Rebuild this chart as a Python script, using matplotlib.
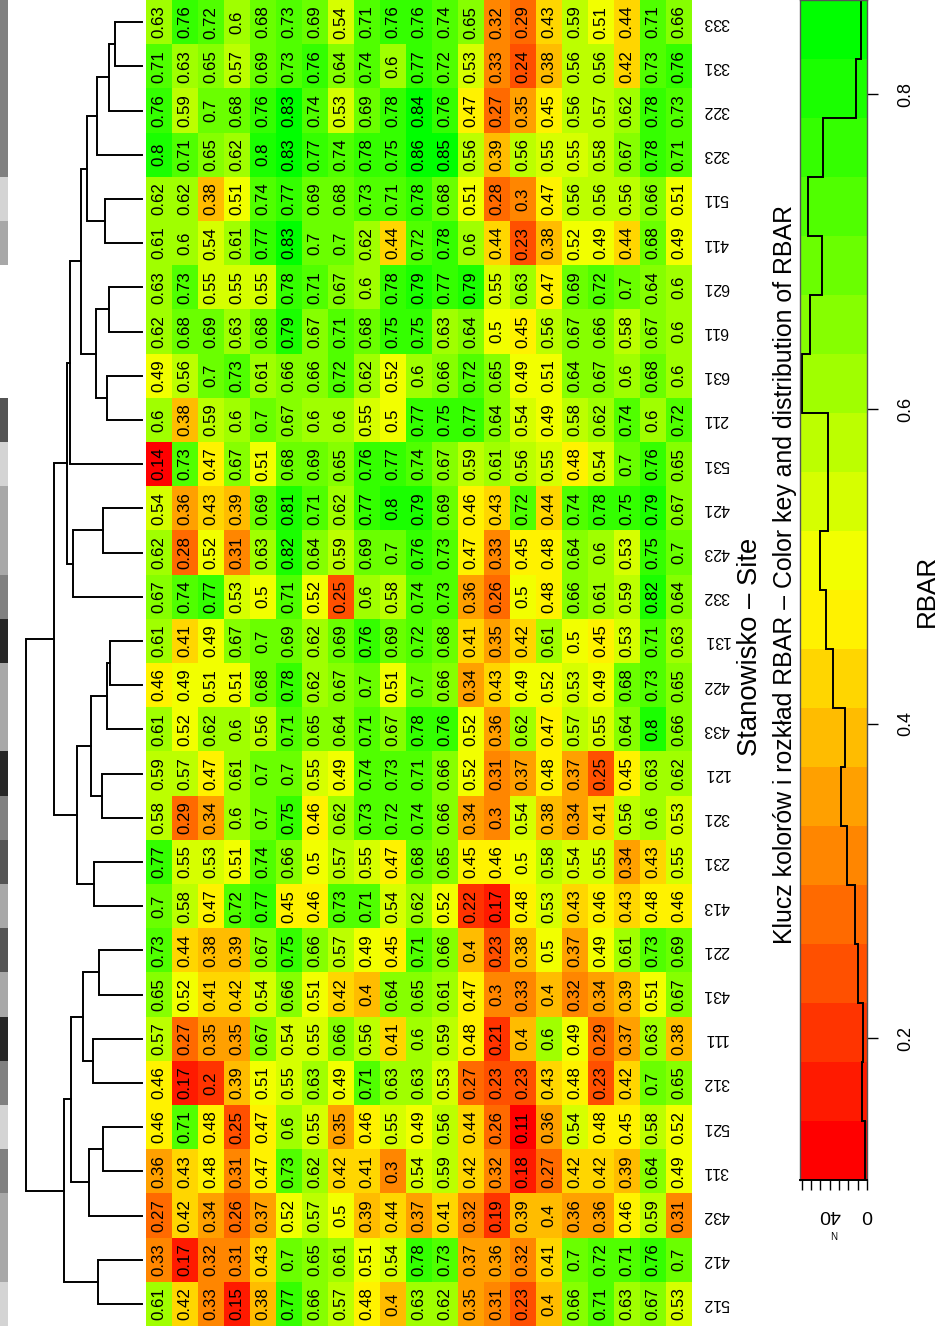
import numpy as np
import matplotlib
matplotlib.use("Agg")
import matplotlib.pyplot as plt
from matplotlib.colors import ListedColormap, BoundaryNorm, LinearSegmentedColormap, to_rgb
from matplotlib.transforms import blended_transform_factory

plt.rcParams['font.family'] = ['Liberation Sans', 'DejaVu Sans']

# Sites in dendrogram order (top to bottom)
sites = ["333", "331", "322", "323", "511", "411", "621", "611", "631", "211",
         "531", "421", "423", "332", "131", "422", "433", "121", "321", "231",
         "413", "221", "431", "111", "312", "521", "311", "432", "412", "512"]

# RBAR values, one row per site
rbar = [
    [0.63, 0.76, 0.72, 0.6, 0.68, 0.73, 0.69, 0.54, 0.71, 0.76, 0.76, 0.74, 0.65, 0.32, 0.29, 0.43, 0.59, 0.51, 0.44, 0.71, 0.66],
    [0.71, 0.63, 0.65, 0.57, 0.69, 0.73, 0.76, 0.64, 0.74, 0.6, 0.77, 0.72, 0.53, 0.33, 0.24, 0.38, 0.56, 0.56, 0.42, 0.73, 0.76],
    [0.76, 0.59, 0.7, 0.68, 0.76, 0.83, 0.74, 0.53, 0.69, 0.78, 0.84, 0.76, 0.47, 0.27, 0.35, 0.45, 0.56, 0.57, 0.62, 0.78, 0.73],
    [0.8, 0.71, 0.65, 0.62, 0.8, 0.83, 0.77, 0.74, 0.78, 0.75, 0.86, 0.85, 0.56, 0.39, 0.56, 0.55, 0.55, 0.58, 0.67, 0.78, 0.71],
    [0.62, 0.62, 0.38, 0.51, 0.74, 0.77, 0.69, 0.68, 0.73, 0.71, 0.78, 0.68, 0.51, 0.28, 0.3, 0.47, 0.56, 0.56, 0.56, 0.66, 0.51],
    [0.61, 0.6, 0.54, 0.61, 0.77, 0.83, 0.7, 0.7, 0.62, 0.44, 0.72, 0.78, 0.6, 0.44, 0.23, 0.38, 0.52, 0.49, 0.44, 0.68, 0.49],
    [0.63, 0.73, 0.55, 0.55, 0.55, 0.78, 0.71, 0.67, 0.6, 0.78, 0.79, 0.77, 0.79, 0.55, 0.63, 0.47, 0.69, 0.72, 0.7, 0.64, 0.6],
    [0.62, 0.68, 0.69, 0.63, 0.68, 0.79, 0.67, 0.71, 0.68, 0.75, 0.75, 0.63, 0.64, 0.5, 0.45, 0.56, 0.67, 0.66, 0.58, 0.67, 0.6],
    [0.49, 0.56, 0.7, 0.73, 0.61, 0.66, 0.66, 0.72, 0.62, 0.52, 0.6, 0.66, 0.72, 0.65, 0.49, 0.51, 0.64, 0.67, 0.6, 0.68, 0.6],
    [0.6, 0.38, 0.59, 0.6, 0.7, 0.67, 0.6, 0.6, 0.55, 0.5, 0.77, 0.75, 0.77, 0.64, 0.54, 0.49, 0.58, 0.62, 0.74, 0.6, 0.72],
    [0.14, 0.73, 0.47, 0.67, 0.51, 0.68, 0.69, 0.65, 0.76, 0.77, 0.74, 0.67, 0.59, 0.61, 0.56, 0.55, 0.48, 0.54, 0.7, 0.76, 0.65],
    [0.54, 0.36, 0.43, 0.39, 0.69, 0.81, 0.71, 0.62, 0.77, 0.8, 0.79, 0.69, 0.46, 0.43, 0.72, 0.44, 0.74, 0.78, 0.75, 0.79, 0.67],
    [0.62, 0.28, 0.52, 0.31, 0.63, 0.82, 0.64, 0.59, 0.69, 0.7, 0.76, 0.73, 0.47, 0.33, 0.45, 0.48, 0.64, 0.6, 0.53, 0.75, 0.7],
    [0.67, 0.74, 0.77, 0.53, 0.5, 0.71, 0.52, 0.25, 0.6, 0.58, 0.74, 0.73, 0.36, 0.26, 0.5, 0.48, 0.66, 0.61, 0.59, 0.82, 0.64],
    [0.61, 0.41, 0.49, 0.67, 0.7, 0.69, 0.62, 0.69, 0.76, 0.69, 0.72, 0.68, 0.41, 0.35, 0.42, 0.61, 0.5, 0.45, 0.53, 0.71, 0.63],
    [0.46, 0.49, 0.51, 0.51, 0.68, 0.78, 0.62, 0.67, 0.7, 0.51, 0.7, 0.66, 0.34, 0.43, 0.49, 0.52, 0.53, 0.49, 0.68, 0.73, 0.65],
    [0.61, 0.52, 0.62, 0.6, 0.56, 0.71, 0.65, 0.64, 0.71, 0.67, 0.78, 0.76, 0.52, 0.36, 0.62, 0.47, 0.57, 0.55, 0.64, 0.8, 0.66],
    [0.59, 0.57, 0.47, 0.61, 0.7, 0.7, 0.55, 0.49, 0.74, 0.73, 0.71, 0.66, 0.52, 0.31, 0.37, 0.48, 0.37, 0.25, 0.45, 0.63, 0.62],
    [0.58, 0.29, 0.34, 0.6, 0.7, 0.75, 0.46, 0.62, 0.73, 0.72, 0.74, 0.66, 0.34, 0.3, 0.54, 0.38, 0.34, 0.41, 0.56, 0.6, 0.53],
    [0.77, 0.55, 0.53, 0.51, 0.74, 0.66, 0.5, 0.57, 0.55, 0.47, 0.68, 0.65, 0.45, 0.46, 0.5, 0.58, 0.54, 0.55, 0.34, 0.43, 0.55],
    [0.7, 0.58, 0.47, 0.72, 0.77, 0.45, 0.46, 0.73, 0.71, 0.54, 0.62, 0.52, 0.22, 0.17, 0.48, 0.53, 0.43, 0.46, 0.43, 0.48, 0.46],
    [0.73, 0.44, 0.38, 0.39, 0.67, 0.75, 0.66, 0.57, 0.49, 0.45, 0.71, 0.66, 0.4, 0.23, 0.38, 0.5, 0.37, 0.49, 0.61, 0.73, 0.69],
    [0.65, 0.52, 0.41, 0.42, 0.54, 0.66, 0.51, 0.42, 0.4, 0.64, 0.65, 0.61, 0.47, 0.3, 0.33, 0.4, 0.32, 0.34, 0.39, 0.51, 0.67],
    [0.57, 0.27, 0.35, 0.35, 0.67, 0.54, 0.55, 0.66, 0.56, 0.41, 0.6, 0.59, 0.48, 0.21, 0.4, 0.6, 0.49, 0.29, 0.37, 0.63, 0.38],
    [0.46, 0.17, 0.2, 0.39, 0.51, 0.55, 0.63, 0.49, 0.71, 0.63, 0.63, 0.53, 0.27, 0.23, 0.23, 0.43, 0.48, 0.23, 0.42, 0.7, 0.65],
    [0.46, 0.71, 0.48, 0.25, 0.47, 0.6, 0.55, 0.35, 0.46, 0.55, 0.49, 0.56, 0.44, 0.26, 0.11, 0.36, 0.54, 0.48, 0.45, 0.58, 0.52],
    [0.36, 0.43, 0.48, 0.31, 0.47, 0.73, 0.62, 0.42, 0.41, 0.3, 0.54, 0.59, 0.42, 0.32, 0.18, 0.27, 0.42, 0.42, 0.39, 0.64, 0.49],
    [0.27, 0.42, 0.34, 0.26, 0.37, 0.52, 0.57, 0.5, 0.39, 0.44, 0.37, 0.41, 0.32, 0.19, 0.39, 0.4, 0.36, 0.36, 0.46, 0.59, 0.31],
    [0.33, 0.17, 0.32, 0.31, 0.43, 0.7, 0.65, 0.61, 0.51, 0.54, 0.78, 0.73, 0.37, 0.36, 0.32, 0.41, 0.7, 0.72, 0.71, 0.76, 0.7],
    [0.61, 0.42, 0.33, 0.15, 0.38, 0.77, 0.66, 0.57, 0.48, 0.4, 0.63, 0.62, 0.35, 0.31, 0.23, 0.4, 0.66, 0.71, 0.63, 0.67, 0.53],
]

# Hierarchical clustering merges: (left, right, height); leaves are site
# names, integers refer to earlier merges by index
merges = [
    ("333", "331", 27), (0, "322", 33), (1, "323", 45), ("511", "411", 37),
    (2, 3, 55), ("621", "611", 33), ("631", "211", 35), (5, 6, 46),
    (4, 7, 61), (8, "531", 72), ("421", "423", 39), (10, "332", 69),
    (9, 11, 75), ("131", "422", 32), (13, "433", 35), ("121", "321", 40),
    (14, 15, 51), ("231", "413", 48), (16, 17, 65), (12, 18, 88),
    ("221", "431", 43), ("111", "312", 49), (20, 21, 59), ("521", "311", 39),
    (23, "432", 53), (22, 24, 71), ("412", "512", 44), (25, 26, 78),
    (19, 27, 116),
]

# Grey shade per site group (first digit of the site code)
group_grey = {"1": "#262626", "2": "#545454", "3": "#808080",
              "4": "#a8a8a8", "5": "#d4d4d4", "6": "#ffffff"}

data = np.array(rbar)
nrow, ncol = data.shape
nbins = 20
breaks = np.linspace(data.min(), data.max(), nbins + 1)
ramp = LinearSegmentedColormap.from_list("ryg", ["#ff0000", "#ffff00", "#00ff00"])
cmap = ListedColormap([ramp(t) for t in np.linspace(0, 1, nbins)])
norm = BoundaryNorm(breaks, nbins)

W, H = 941, 1326
fig = plt.figure(figsize=(W / 100, H / 100), dpi=100)


def px_axes(x0, y0, x1, y1):
    return fig.add_axes([x0 / W, 1 - y1 / H, (x1 - x0) / W, (y1 - y0) / H])


# Heatmap
ax = px_axes(146, 0, 692, H)
ax.pcolormesh(np.arange(ncol + 1), np.arange(nrow + 1), data, cmap=cmap, norm=norm)
ax.set_xlim(0, ncol)
ax.set_ylim(nrow, 0)
ax.axis("off")
for i in range(nrow):
    for j in range(ncol):
        ax.text(j + 0.5, i + 0.5, f"{data[i, j]:g}", rotation=90,
                ha="center", va="center", fontsize=12.2, color="black")

trans = blended_transform_factory(ax.transAxes, ax.transData)
for i, s in enumerate(sites):
    ax.text(1 + 11 / 546, i + 0.5, s, transform=trans, rotation=180,
            ha="left", va="center", fontsize=11.5)

# Group side bar
axs = px_axes(0, 0, 8, H)
rgb = np.array([to_rgb(group_grey[s[0]]) for s in sites])[:, None, :]
axs.imshow(rgb, aspect="auto", extent=(0, 1, nrow, 0), interpolation="nearest")
axs.set_xlim(0, 1)
axs.set_ylim(nrow, 0)
axs.axis("off")

# Row dendrogram
axd = px_axes(20, 0, 142, H)
axd.set_xlim(122, 0)
axd.set_ylim(nrow, 0)
axd.axis("off")
pos = {s: (i + 0.5, 0.0) for i, s in enumerate(sites)}
for k, (a, b, h) in enumerate(merges):
    ya, hla = pos[a]
    yb, hlb = pos[b]
    axd.plot([hla, h, h, hlb], [ya, ya, yb, yb], color="black", lw=1.4,
             solid_joinstyle="miter", clip_on=False)
    pos[k] = ((ya + yb) / 2, h)

# Colour key with histogram
counts, _ = np.histogram(data.ravel(), bins=breaks)
cmax = 72
axk = px_axes(800, 0, 867, 1180)
mids = ((breaks[:-1] + breaks[1:]) / 2).reshape(-1, 1)
axk.pcolormesh([0, cmax], breaks, mids, cmap=cmap, norm=norm)
axk.stairs(counts, breaks, orientation="horizontal", baseline=None,
           color="black", lw=1.4)
axk.set_xlim(cmax, 0)
axk.set_ylim(breaks[0], breaks[-1])
for side in ("left", "top", "right"):
    axk.spines[side].set_color("#555555")
    axk.spines[side].set_linewidth(1.0)
axk.spines["bottom"].set_linewidth(1.4)

axk.yaxis.tick_right()
axk.set_yticks([0.2, 0.4, 0.6, 0.8])
axk.set_yticklabels(["0.2", "0.4", "0.6", "0.8"], rotation=90, va="center",
                    fontsize=13)
axk.tick_params(axis="y", length=8, width=1.0, pad=14)

xt = np.arange(0, 71, 10)
axk.set_xticks(xt)
axk.set_xticklabels([str(v) if v in (0, 40) else "" for v in xt],
                    rotation=180, fontsize=14)
axk.tick_params(axis="x", length=7, width=1.0, pad=12)

fig.text(834 / W, 1 - 1233 / H, "N", rotation=180, ha="center", va="center",
         fontsize=7)
fig.text(927 / W, 1 - 591 / H, "RBAR", rotation=90, ha="center", va="center",
         fontsize=18.7)
fig.text(750 / W, 1 - 647 / H, "Stanowisko – Site", rotation=90,
         ha="center", va="center", fontsize=19.8)
fig.text(785 / W, 1 - 575 / H,
         "Klucz kolorów i rozkład RBAR – Color key and distribution of RBAR",
         rotation=90, ha="center", va="center", fontsize=17.9)

fig.savefig("out.png", dpi=100)
